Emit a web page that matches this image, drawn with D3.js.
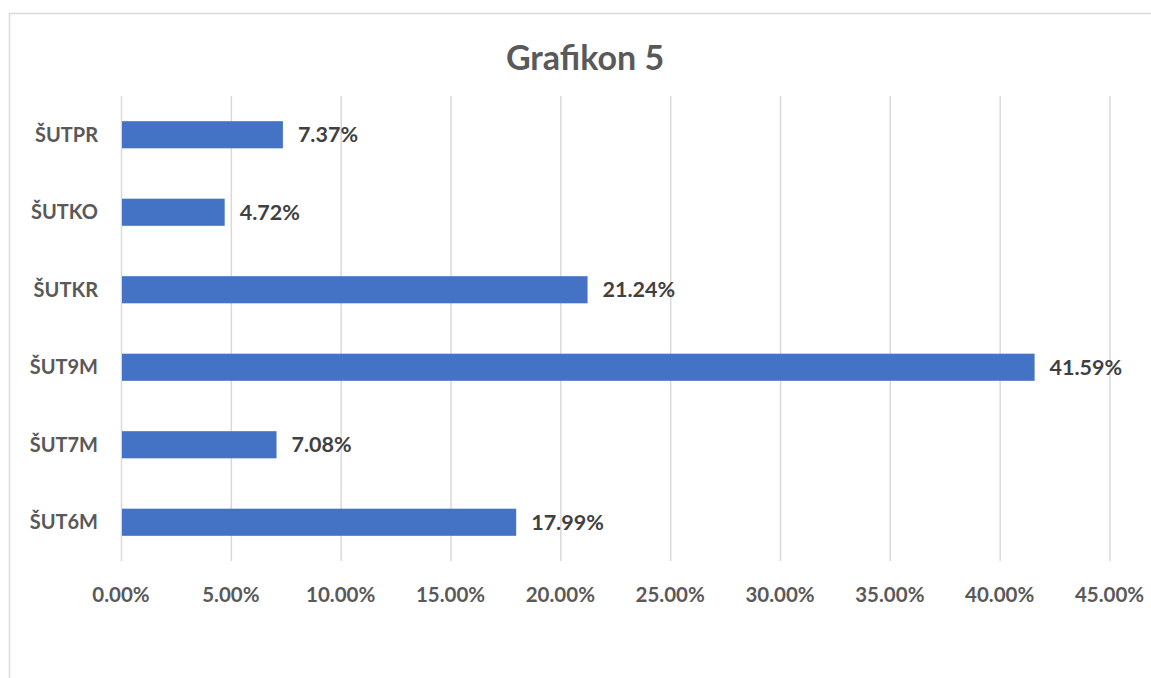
<!DOCTYPE html>
<html lang="en">
<head>
    <meta charset="UTF-8">
    <title>Grafikon 5</title>
    <script src="https://d3js.org/d3.v7.min.js"></script>
    <style>
        body { margin: 0; background: #fff; }
        svg { display: block; font-family: Lato, "Open Sans", sans-serif; }
    </style>
</head>
<body>
    <div id="chart"></div>
    <script>
        // chart data
        var categories = ["ŠUTPR", "ŠUTKO", "ŠUTKR", "ŠUT9M", "ŠUT7M", "ŠUT6M"];
        var values = [7.37, 4.72, 21.24, 41.59, 7.08, 17.99];
        var xTicks = [0, 5, 10, 15, 20, 25, 30, 35, 40, 45];

        var W = 1151, H = 678;
        var svg = d3.select("#chart").append("svg").attr("width", W).attr("height", H);

        // outer chart border
        svg.append("rect")
            .attr("x", 9.5).attr("y", 13.5)
            .attr("width", W + 20).attr("height", H + 20)
            .attr("fill", "none").attr("stroke", "#d9d9d9").attr("stroke-width", 1.5);

        svg.append("text")
            .attr("x", 585).attr("y", 70)
            .attr("text-anchor", "middle")
            .attr("font-size", 34).attr("font-weight", "bold")
            .attr("fill", "#595959")
            .text("Grafikon 5");

        var x = d3.scaleLinear().domain([0, 45]).range([121, 1109.5]);
        var y = d3.scaleBand().domain(categories).range([96, 561])
            .paddingInner(0.65).paddingOuter(0.325);

        // gridlines
        svg.append("g").selectAll("line")
            .data(xTicks)
            .join("line")
            .attr("x1", d => x(d) + 0.5).attr("x2", d => x(d) + 0.5)
            .attr("y1", 96).attr("y2", 561)
            .attr("stroke", "#d9d9d9").attr("stroke-width", 1.5);

        // bars
        svg.append("g").selectAll("rect")
            .data(values)
            .join("rect")
            .attr("x", x(0) + 1)
            .attr("y", (d, i) => y(categories[i]))
            .attr("width", d => x(d) - x(0) - 1)
            .attr("height", y.bandwidth())
            .attr("fill", "#4472c4");

        // value labels
        svg.append("g").selectAll("text")
            .data(values)
            .join("text")
            .attr("x", d => x(d) + 15)
            .attr("y", (d, i) => y(categories[i]) + y.bandwidth() / 2)
            .attr("dy", "0.36em")
            .attr("font-size", 21.5).attr("font-weight", "bold")
            .attr("fill", "#404040")
            .text(d => d.toFixed(2) + "%");

        // category labels
        svg.append("g").selectAll("text")
            .data(categories)
            .join("text")
            .attr("x", 98)
            .attr("y", d => y(d) + y.bandwidth() / 2)
            .attr("dy", "0.36em")
            .attr("text-anchor", "end")
            .attr("font-size", 20).attr("font-weight", "bold")
            .attr("fill", "#595959")
            .text(d => d);

        // x tick labels
        svg.append("g").selectAll("text")
            .data(xTicks)
            .join("text")
            .attr("x", d => x(d))
            .attr("y", 595)
            .attr("dy", "0.36em")
            .attr("text-anchor", "middle")
            .attr("font-size", 20.5).attr("font-weight", "bold")
            .attr("fill", "#595959")
            .text(d => d.toFixed(2) + "%");
    </script>
</body>
</html>
